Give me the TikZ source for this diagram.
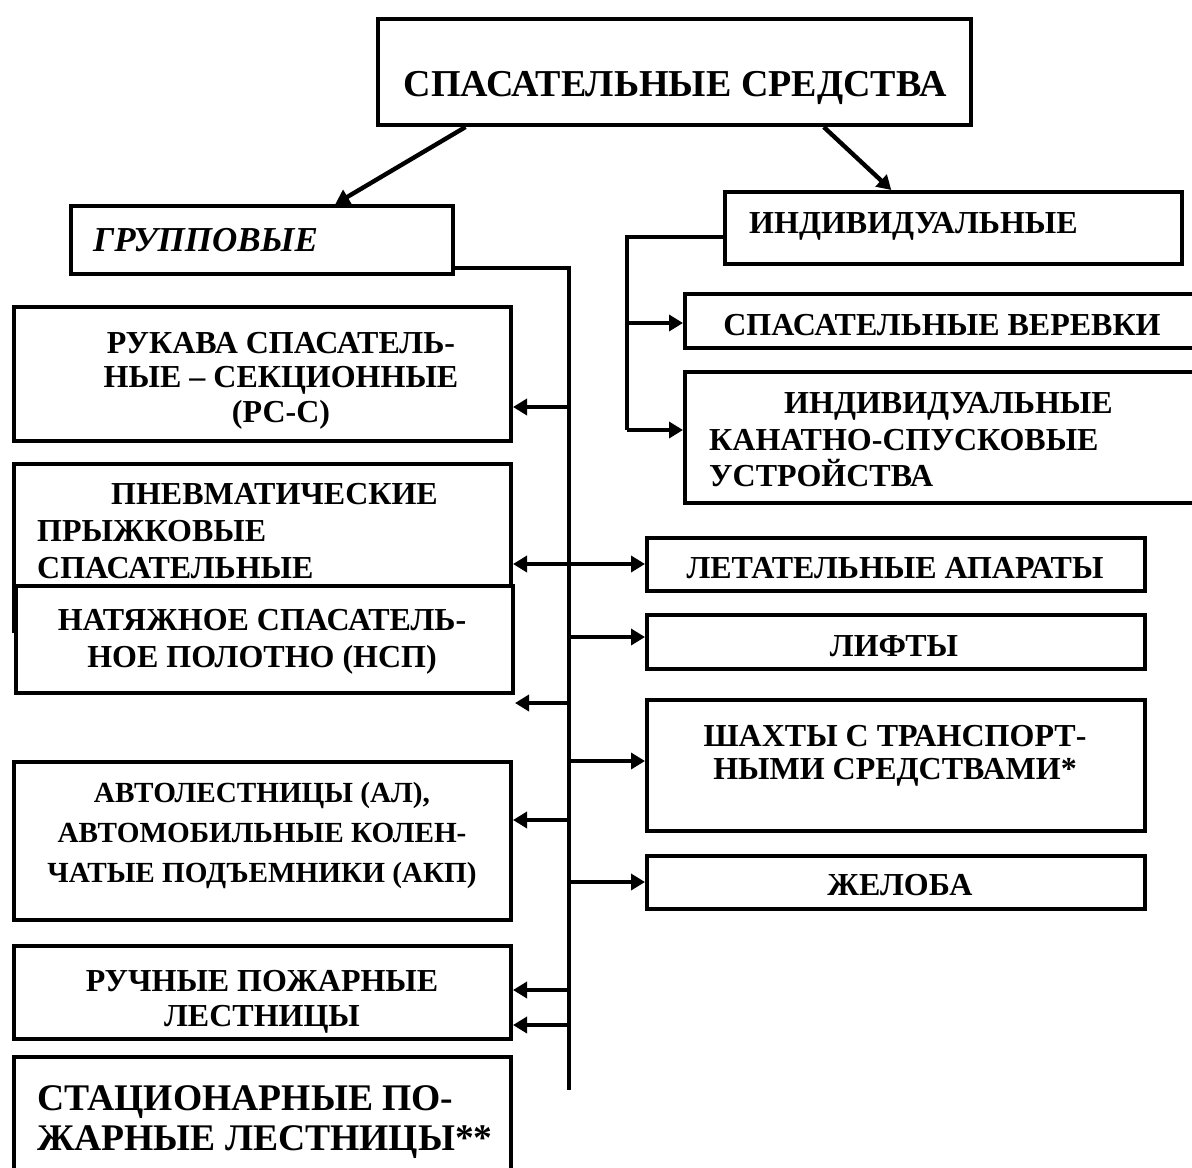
\documentclass[tikz,border=0pt]{standalone}
\usepackage{fontspec}
\setmainfont{Liberation Serif}
\usetikzlibrary{arrows.meta,positioning,calc}
\tikzset{every picture/.style={line width=2.2pt}}
\tikzset{
  box/.style={draw, fill=white, rectangle, inner sep=0pt},
  txt/.style={inner sep=0pt, align=center, font=\fontsize{16}{18}\selectfont\bfseries},
  arr/.style={-{Triangle[length=7pt,width=8pt]}},
  dblarr/.style={{Triangle[length=7pt,width=8pt]}-{Triangle[length=7pt,width=8pt]}},
}

\begin{document}
\begin{tikzpicture}[x=0.5pt,y=-0.5pt]
    \useasboundingbox (0,0) rectangle (1192,1167);

    % заголовок
    \node[box, minimum width=296.3pt, minimum height=52.8pt] (tit) at (674.5,72) {};
    \node[txt, font=\fontsize{19}{20}\selectfont\bfseries] (titT) at (675,88) {СПАСАТЕЛЬНЫЕ СРЕДСТВА};

    % две группы
    \node[box, minimum width=190.8pt, minimum height=33.8pt] (grp) at (262,240) {};
    \node[txt, anchor=west, font=\fontsize{17.5}{18}\selectfont\bfseries\itshape] (grpT) at (91,240) {ГРУППОВЫЕ};
    \node[box, minimum width=228.3pt, minimum height=35.8pt] (ind) at (953.5,228) {};
    \node[txt, anchor=west] (indT) at (747,226) {ИНДИВИДУАЛЬНЫЕ};

    \draw[arr] ($(tit.south west)!0.15!(tit.south east)$) -- ($(grp.north west)!0.69!(grp.north east)$);
    \draw[arr] ($(tit.south west)!0.75!(tit.south east)$) -- ($(ind.north west)!0.365!(ind.north east)$);

    % индивидуальные средства
    \node[box, minimum width=271.3pt, minimum height=26.8pt] (ver) at (956.5,321) {};
    \node[txt] (verT) at (942,325) {СПАСАТЕЛЬНЫЕ ВЕРЕВКИ};
    \node[box, minimum width=271.3pt, minimum height=65.3pt] (kan) at (956.5,437.5) {};
    \node[txt, anchor=west, align=left, font=\fontsize{16}{18.25}\selectfont\bfseries] (kanT) at (707,440)
        {\hspace*{37.5pt}ИНДИВИДУАЛЬНЫЕ\\КАНАТНО-СПУСКОВЫЕ\\УСТРОЙСТВА};

    \coordinate (it) at (627,237);
    \coordinate (im) at (627,323);
    \coordinate (ib) at (627,430);
    \draw (it -| ind.west) -- (it) -- (ib);
    \draw[arr] (im) -- (im -| ver.west);
    \draw[arr] (ib) -- (ib -| kan.west);

    % групповые средства, слева
    \node[box, minimum width=248.3pt, minimum height=66.8pt] (ruk) at (262.5,374) {};
    \node[txt, font=\fontsize{16}{17.25}\selectfont\bfseries] (rukT) at (281,380.5)
        {РУКАВА СПАСАТЕЛЬ-\\НЫЕ – СЕКЦИОННЫЕ\\(РС-С)};
    \node[box, minimum width=248.3pt, minimum height=83.3pt] (pnv) at (262.5,547.5) {};
    \node[txt, anchor=west, align=left, font=\fontsize{16}{18.5}\selectfont\bfseries] (pnvT) at (35,531)
        {\hspace*{37pt}ПНЕВМАТИЧЕСКИЕ\\ПРЫЖКОВЫЕ\\СПАСАТЕЛЬНЫЕ};
    \node[box, minimum width=248.3pt, minimum height=53.3pt] (nat) at (264.5,639.5) {};
    \node[txt, font=\fontsize{16}{18.5}\selectfont\bfseries] (natT) at (262,641.5)
        {НАТЯЖНОЕ СПАСАТЕЛЬ-\\НОЕ ПОЛОТНО (НСП)};
    \node[box, minimum width=248.3pt, minimum height=78.8pt] (avt) at (262.5,841) {};
    \node[txt, font=\fontsize{14.6}{20}\selectfont\bfseries] (avtT) at (262,835)
        {АВТОЛЕСТНИЦЫ (АЛ),\\АВТОМОБИЛЬНЫЕ КОЛЕН-\\ЧАТЫЕ ПОДЪЕМНИКИ (АКП)};
    \node[box, minimum width=248.3pt, minimum height=46.3pt] (ruc) at (262.5,992.5) {};
    \node[txt, font=\fontsize{16}{17.5}\selectfont\bfseries] (rucT) at (262,1001.5)
        {РУЧНЫЕ ПОЖАРНЫЕ\\ЛЕСТНИЦЫ};
    \node[box, minimum width=248.3pt, minimum height=95.3pt] (sta) at (262.5,1152.5) {};
    \node[txt, anchor=west, align=left, font=\fontsize{18.8}{20}\selectfont\bfseries] (staT) at (35,1122)
        {СТАЦИОНАРНЫЕ ПО-\\ЖАРНЫЕ ЛЕСТНИЦЫ**};

    % групповые средства, справа
    \node[box, minimum width=248.8pt, minimum height=26.3pt] (let) at (896,564.5) {};
    \node[txt] (letT) at (895,568) {ЛЕТАТЕЛЬНЫЕ АПАРАТЫ};
    \node[box, minimum width=248.8pt, minimum height=26.8pt] (lif) at (896,642) {};
    \node[txt] (lifT) at (894,646) {ЛИФТЫ};
    \node[box, minimum width=248.8pt, minimum height=65.3pt] (sha) at (896,765.5) {};
    \node[txt, font=\fontsize{16}{16.5}\selectfont\bfseries] (shaT) at (895,755.5)
        {ШАХТЫ С ТРАНСПОРТ-\\НЫМИ СРЕДСТВАМИ*};
    \node[box, minimum width=248.8pt, minimum height=26.3pt] (zhe) at (896,882.5) {};
    \node[txt] (zheT) at (900,885) {ЖЕЛОБА};

    % общая шина
    \coordinate (bt) at (569,268);
    \coordinate (bb) at (569,1090);
    \draw (bt -| grp.east) -- (bt) -- (bb);

    \foreach \y/\n in {407/ruk, 703/nat, 820/avt, 990/ruc, 1025/ruc}{
        \coordinate (j) at (569,\y);
        \draw[arr] (j) -- (j -| \n.east);
    }
    \foreach \y/\n in {637/lif, 761/sha, 882/zhe}{
        \coordinate (j) at (569,\y);
        \draw[arr] (j) -- (j -| \n.west);
    }
    \coordinate (jd) at (569,564);
    \draw[dblarr] (jd -| pnv.east) -- (jd -| let.west);
\end{tikzpicture}
\end{document}
